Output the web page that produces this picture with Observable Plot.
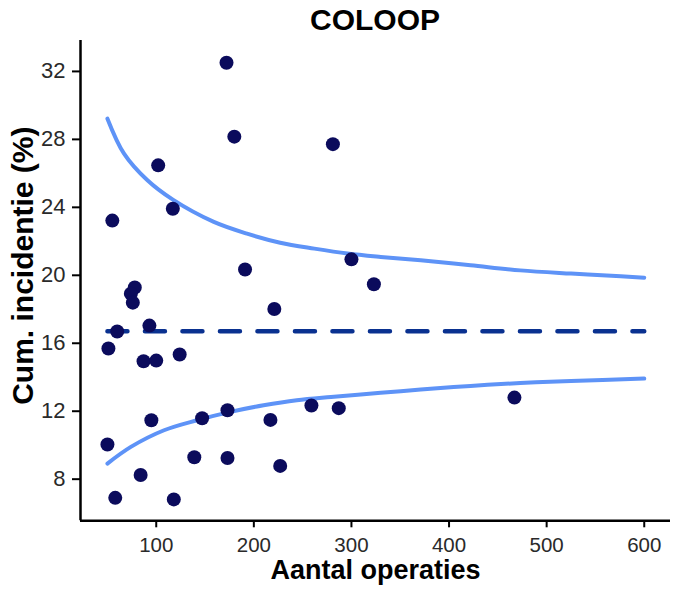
<!DOCTYPE html>
<html>
<head>
<meta charset="utf-8">
<script src="https://cdn.jsdelivr.net/npm/d3@7"></script>
<script src="https://cdn.jsdelivr.net/npm/@observablehq/plot@0.6"></script>
<style>
  html, body { margin: 0; padding: 0; background: #fff; }
  #wrap { position: relative; width: 682px; height: 591px; font-family: "Liberation Sans", Arial, sans-serif; }
  #title { position: absolute; left: 80px; width: 590px; top: 5.3px; text-align: center;
           font: bold 30px "Liberation Sans", Arial, sans-serif; line-height: 1; color: #000; }
  #chart { position: absolute; left: 0; top: 40px; }
</style>
</head>
<body>
<div id="wrap">
  <div id="title">COLOOP</div>
  <div id="chart"></div>
</div>
<script>
// Hospitals: number of operations and cumulative incidence (%)
const hospN = [172, 180, 281, 102, 117, 55, 191, 300, 323, 78, 74, 76, 221, 60, 93, 51, 87, 100, 124, 50, 95, 147, 173, 217, 259, 287, 84, 139, 173, 227, 58, 118, 467];
const hospInc = [32.51, 28.16, 27.72, 26.47, 23.92, 23.22, 20.34, 20.94, 19.47, 19.28, 18.92, 18.39, 18.02, 16.69, 17.04, 15.69, 14.94, 14.98, 15.34, 10.04, 11.47, 11.59, 12.06, 11.49, 12.34, 12.18, 8.25, 9.29, 9.25, 8.78, 6.9, 6.81, 12.8];

// Upper control limit
const upperN = [50, 67, 91, 117, 159, 193, 227, 262, 296, 330, 371, 422, 473, 525, 576, 600];
const upperInc = [29.22, 27.16, 25.59, 24.45, 23.14, 22.45, 21.92, 21.57, 21.28, 21.08, 20.88, 20.59, 20.29, 20.1, 19.94, 19.86];

// Lower control limit
const lowerN = [50, 74, 108, 142, 176, 210, 244, 279, 330, 371, 422, 473, 525, 600];
const lowerInc = [8.92, 9.9, 10.88, 11.47, 11.96, 12.35, 12.65, 12.84, 13.08, 13.28, 13.49, 13.66, 13.78, 13.92];

// Overall mean
const meanN = [50, 600];
const meanInc = 16.7;

const xTicks = [100, 200, 300, 400, 500, 600];
const yTicks = [8, 12, 16, 20, 24, 28, 32];
const xDomain = [22.4, 626.9];
const yDomain = [5.55, 33.82];

const titleText = "COLOOP";
const xLabel = "Aantal operaties";
const yLabel = "Cum. incidentie (%)";

const points = hospN.map((n, i) => ({n, inc: hospInc[i]}));
const upper = upperN.map((n, i) => ({n, inc: upperInc[i]}));
const lower = lowerN.map((n, i) => ({n, inc: lowerInc[i]}));
const mean = meanN.map(n => ({n, inc: meanInc}));

document.getElementById("title").textContent = titleText;

const fontFamily = '"Liberation Sans", Arial, sans-serif';

const chart = Plot.plot({
  width: 682,
  height: 551,
  marginLeft: 80,
  marginRight: 12,
  marginTop: 0,
  marginBottom: 70.7,
  style: {fontFamily, background: "#fff", overflow: "visible"},
  x: {domain: xDomain},
  y: {domain: yDomain},
  marks: [
    Plot.line(upper, {x: "n", y: "inc", stroke: "#5e93f7", strokeWidth: 4, curve: "catmull-rom"}),
    Plot.line(lower, {x: "n", y: "inc", stroke: "#5e93f7", strokeWidth: 4, curve: "catmull-rom"}),
    Plot.line(mean, {x: "n", y: "inc", stroke: "#0a3190", strokeWidth: 4.5, strokeDasharray: "20,17.5"}),
    Plot.dot(points, {x: "n", y: "inc", r: 7, fill: "#0b0b5c", stroke: "none"}),
    Plot.ruleY([yDomain[0]], {stroke: "#000", strokeWidth: 2.5}),
    Plot.ruleX([xDomain[0]], {stroke: "#000", strokeWidth: 2.5}),
    Plot.axisX({ticks: xTicks, tickSize: 7, tickPadding: 10, fontSize: 20.5, strokeWidth: 2, stroke: "#000", fill: "#2a2a2a", label: null, tickFormat: d => String(d)}),
    Plot.axisY({ticks: yTicks, tickSize: 8, tickPadding: 7, fontSize: 22, strokeWidth: 2, stroke: "#000", fill: "#2a2a2a", label: null, tickFormat: d => String(d)}),
    Plot.text([xLabel], {text: d => d, frameAnchor: "bottom", textAnchor: "middle", lineAnchor: "bottom", dy: 57.7, fontSize: 27, fontWeight: "bold", fill: "#000"}),
    Plot.text([yLabel], {text: d => d, frameAnchor: "left", textAnchor: "middle", lineAnchor: "bottom", rotate: -90, dx: -47.7, dy: -15, fontSize: 30, fontWeight: "bold", fill: "#000"})
  ]
});
document.getElementById("chart").appendChild(chart);
</script>
</body>
</html>
